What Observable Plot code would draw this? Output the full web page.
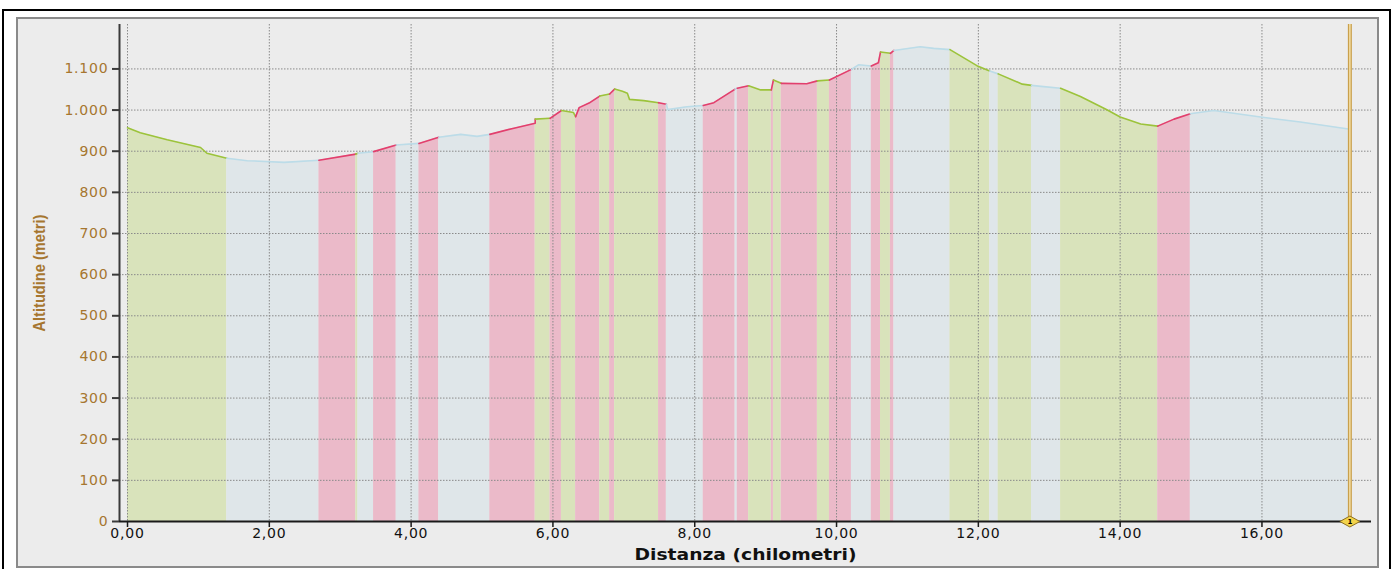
<!DOCTYPE html>
<html><head><meta charset="utf-8">
<script src="https://cdn.jsdelivr.net/npm/d3@7"></script>
<script src="https://cdn.jsdelivr.net/npm/@observablehq/plot@0.6"></script>
<style>
html,body{margin:0;padding:0;background:#fff;}
#wrap{position:relative;width:1399px;height:569px;overflow:hidden;background:#fff;}
#outer{position:absolute;left:2px;top:9px;width:1389px;height:600px;border:2px solid #000;box-sizing:border-box;}
#panel{position:absolute;left:16px;top:17px;width:1363px;height:551px;border:2px solid #8a8a8a;box-sizing:border-box;background:#ececec;}
#chart{position:absolute;left:0;top:0;}
</style></head><body>
<div id="wrap"><div id="outer"></div><div id="panel"></div><div id="chart"></div></div>
<script>
// distance (km), altitude (m), slope type of the segment starting at each point
const distanza = [0.00,0.18,0.56,1.03,1.12,1.40,1.69,2.21,2.70,3.22,3.25,3.47,3.79,4.11,4.39,4.70,4.93,5.11,5.45,5.75,5.75,5.96,6.12,6.29,6.32,6.37,6.51,6.66,6.80,6.87,6.98,7.05,7.08,7.28,7.49,7.60,7.62,7.89,8.12,8.27,8.57,8.60,8.76,8.93,9.08,9.11,9.22,9.58,9.73,9.90,10.21,10.31,10.49,10.59,10.62,10.76,10.81,11.18,11.37,11.60,11.98,12.16,12.28,12.62,12.75,12.92,13.16,13.44,13.82,14.00,14.29,14.53,14.76,14.99,15.32,15.98,16.54,17.22];
const altitudine = [957,945,928,909,895,883,877,873,878,893,895,899,915,919,934,941,936,941,956,968,978,980,999,994,984,1006,1017,1034,1039,1051,1046,1041,1026,1023,1018,1014,1001,1008,1011,1018,1051,1053,1059,1049,1049,1073,1065,1064,1071,1073,1099,1110,1107,1115,1141,1138,1145,1154,1150,1147,1108,1095,1088,1063,1060,1057,1053,1033,1000,983,966,961,978,991,999,983,971,954];
const pendenza = ["D","D","D","D","D","F","F","F","A","D","F","A","F","A","F","F","F","A","A","A","D","A","D","D","A","A","A","D","A","D","D","D","D","D","A","F","F","F","A","A","F","A","D","D","A","D","A","A","D","A","F","F","A","A","D","A","F","F","F","D","D","F","D","D","F","F","D","D","D","D","D","A","A","F","F","F","F"];
const xTicks = [0,2,4,6,8,10,12,14,16];
const yTicks = [0,100,200,300,400,500,600,700,800,900,1000,1100];
const marker = 17.24;
const titoloX = "Distanza (chilometri)";
const titoloY = "Altitudine (metri)";

const fillColor = {D:"#d9e3bb", F:"#dfe6e9", A:"#ebbac9"};
const lineColor = {D:"#9cc33b", F:"#bcdce8", A:"#e23f6d"};

// group consecutive segments of same type
const pts = [];
let g = 0;
for (let i = 0; i < distanza.length - 1; i++) {
  const t = pendenza[i];
  pts.push({x: distanza[i], y: altitudine[i], t, g});
  const next = pendenza[i+1];
  if (i === distanza.length - 2 || next !== t) {
    pts.push({x: distanza[i+1], y: altitudine[i+1], t, g});
    g++;
  }
}

const it = d3.formatLocale({decimal: ",", thousands: ".", grouping: [3], currency: ["", "€"]});
const fy = it.format(",");
const fx = it.format(",.2f");

const flatDiamond = {draw(ctx) { const w = 10, h = 5.5; ctx.moveTo(-w,0); ctx.lineTo(0,-h); ctx.lineTo(w,0); ctx.lineTo(0,h); ctx.closePath(); }};

const brown = "#a6762f";
const grid = {stroke: "#8a8a8a", strokeOpacity: 1, strokeDasharray: "1.5,1.5", strokeWidth: 1};

const plot = Plot.plot({
  width: 1399, height: 569,
  marginLeft: 119, marginRight: 28, marginTop: 24, marginBottom: 48,
  style: {background: "transparent", overflow: "visible", fontFamily: "'DejaVu Sans', sans-serif"},
  x: {domain: [-0.113, 17.545], axis: null},
  y: {domain: [0, 1208], axis: null},
  color: {type: "identity"},
  marks: [
    Plot.areaY(pts, {x: "x", y1: 0, y2: "y", z: "g", fill: d => fillColor[d.t], curve: "linear"}),
    Plot.gridY(yTicks.filter(d => d > 0), grid),
    Plot.gridX(xTicks, grid),
    Plot.line(pts, {x: "x", y: "y", z: "g", stroke: d => lineColor[d.t], strokeWidth: 1.6, curve: "linear"}),
    Plot.ruleX([marker], {stroke: "#c9a04c", strokeWidth: 4}),
    Plot.ruleX([marker], {stroke: "#f2dca2", strokeWidth: 1.6}),
    Plot.ruleX([-0.113], {stroke: "#3a3a3a", strokeWidth: 2}),
    Plot.ruleY([0], {stroke: "#1a1a1a", strokeWidth: 2}),
    Plot.axisY(yTicks, {tickSize: 7, tickPadding: 4, tickFormat: fy, stroke: "#3a3a3a", strokeWidth: 2, fill: brown, fontSize: 14, label: null}),
    Plot.axisX(xTicks, {tickSize: 6, tickPadding: 1, tickFormat: fx, stroke: "#1a1a1a", strokeWidth: 1.5, fill: "#111", fontSize: 14, label: null}),
    Plot.dot([marker], {x: d => d, y: 0, symbol: flatDiamond, r: 1, fill: "#f3d34a", stroke: "#8d6f1d", strokeWidth: 1}),
    Plot.text([marker], {x: d => d, y: 0, text: () => "1", fontSize: 7, fontWeight: "bold", fill: "#000"}),
    Plot.text([titoloX], {frameAnchor: "bottom", lineAnchor: "middle", dy: 33, fontSize: 16, fontWeight: "bold", fill: "#111"}),
    Plot.text([titoloY], {frameAnchor: "left", textAnchor: "middle", lineAnchor: "middle", dx: -80, rotate: -90, fontSize: 17, fontWeight: "bold", fill: brown, fontFamily: "'Liberation Sans', sans-serif"})
  ]
});
const s = d3.select(plot);
s.selectAll("g[aria-label='y-axis tick label'] text, g[aria-label='x-axis tick label'] text").style("letter-spacing", "0.8px");
s.selectAll("text").each(function() {
  const t = this.textContent;
  if (t === titoloX) d3.select(this).attr("textLength", 222).attr("lengthAdjust", "spacingAndGlyphs");
  if (t === titoloY) d3.select(this).attr("textLength", 117).attr("lengthAdjust", "spacingAndGlyphs");
});
document.getElementById("chart").appendChild(plot);
</script>
</body></html>
